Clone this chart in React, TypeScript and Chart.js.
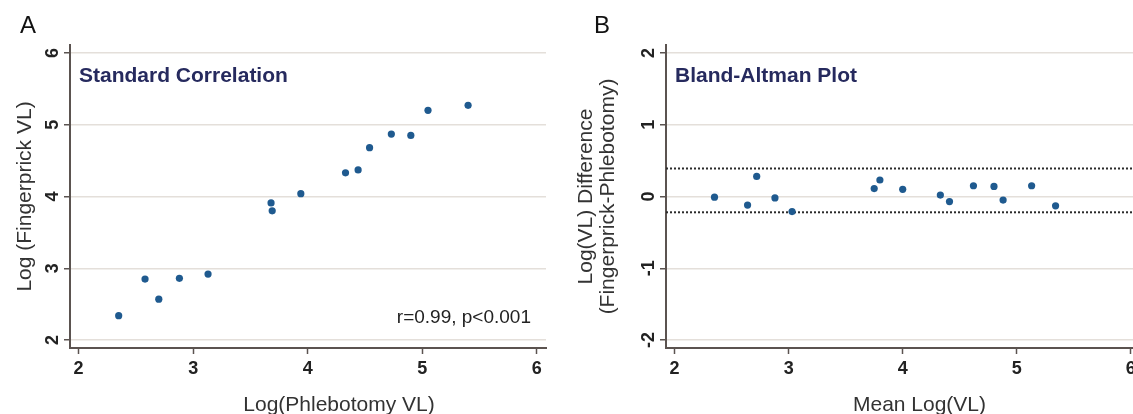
import React, { useEffect, useRef } from "react";
import { Chart, registerables } from "chart.js";

Chart.register(...registerables);

// ---------- data ----------
const xTickValues = [2, 3, 4, 5, 6];
const yTickValuesA = [2, 3, 4, 5, 6];
const yTickValuesB = [-2, -1, 0, 1, 2];

// Panel A: standard correlation
const phlebotomyLogVL = [2.35, 2.58, 2.70, 2.88, 3.13, 3.68, 3.69, 3.94, 4.33, 4.44, 4.54, 4.73, 4.90, 5.05, 5.40];
const fingerprickLogVL = [2.34, 2.85, 2.57, 2.86, 2.92, 3.91, 3.80, 4.04, 4.33, 4.37, 4.68, 4.87, 4.85, 5.20, 5.27];

// Panel B: Bland-Altman
const meanLogVL = [2.35, 2.64, 2.72, 2.88, 3.03, 3.75, 3.80, 4.00, 4.33, 4.41, 4.62, 4.80, 4.88, 5.13, 5.34];
const diffLogVL = [-0.01, -0.12, 0.28, -0.02, -0.21, 0.11, 0.23, 0.10, 0.02, -0.07, 0.15, 0.14, -0.05, 0.15, -0.13];
const limitsOfAgreement = [0.39, -0.22];

// axis ranges
const xRange = [1.925, 6.08];
const yRangeA = [1.89, 6.11];
const yRangeB = [-2.11, 2.11];

// ---------- styles ----------
const FONT = '"Liberation Sans", Arial, Helvetica, sans-serif';
const POINT_COLOR = "#1f5a8f";
const GRID_COLOR = "#e4dfda";
const AXIS_COLOR = "#5b5350";
const TEXT_COLOR = "#222222";
const TITLE_COLOR = "#262a5e";

type Decor = {
  panel: string;
  panelX: number;
  inner: string;
  innerX: number;
  yTitle: string[];
  yTitleX: number[];
  yLabelX: number;
  xTitle: string;
  xTitleX: number;
  note?: string;
};

function decorPlugin(d: Decor) {
  return {
    id: "decor",
    afterDraw(chart: any) {
      const ctx = chart.ctx as CanvasRenderingContext2D;
      const xs = chart.scales.x;
      const ys = chart.scales.y;
      ctx.save();
      ctx.fillStyle = TEXT_COLOR;

      // x tick labels
      ctx.font = `bold 18px ${FONT}`;
      ctx.textAlign = "center";
      ctx.textBaseline = "middle";
      xs.ticks.forEach((t: any) => {
        ctx.fillText(String(t.value), xs.getPixelForValue(t.value), 369);
      });

      // y tick labels (rotated)
      ys.ticks.forEach((t: any) => {
        ctx.save();
        ctx.translate(d.yLabelX, ys.getPixelForValue(t.value));
        ctx.rotate(-Math.PI / 2);
        ctx.fillText(String(t.value), 0, 0);
        ctx.restore();
      });

      // axis titles
      ctx.fillStyle = "#333333";
      ctx.font = `21px ${FONT}`;
      ctx.textBaseline = "alphabetic";
      ctx.fillText(d.xTitle, d.xTitleX, 411);
      const midY = (chart.chartArea.top + chart.chartArea.bottom) / 2;
      d.yTitle.forEach((line, i) => {
        ctx.save();
        ctx.translate(d.yTitleX[i], midY);
        ctx.rotate(-Math.PI / 2);
        ctx.textBaseline = "middle";
        ctx.fillText(line, 0, 0);
        ctx.restore();
      });

      // panel letter
      ctx.fillStyle = "#111111";
      ctx.font = `24px ${FONT}`;
      ctx.textAlign = "left";
      ctx.textBaseline = "alphabetic";
      ctx.fillText(d.panel, d.panelX, 33);

      // inner title
      ctx.fillStyle = TITLE_COLOR;
      ctx.font = `bold 21px ${FONT}`;
      ctx.fillText(d.inner, d.innerX, 82);

      // note
      if (d.note) {
        ctx.fillStyle = TEXT_COLOR;
        ctx.font = `19px ${FONT}`;
        ctx.textAlign = "right";
        ctx.fillText(d.note, 531, 323);
      }
      ctx.restore();
    },
  };
}

function buildOptions(yRange: number[], yTicks: number[], yAxisWidth: number, padRight: number) {
  return {
    responsive: false,
    animation: false as const,
    layout: { padding: { left: 0, right: padRight, top: 45, bottom: 0 } },
    plugins: { legend: { display: false }, tooltip: { enabled: false }, title: { display: false } },
    scales: {
      x: {
        type: "linear" as const,
        min: xRange[0],
        max: xRange[1],
        afterBuildTicks: (s: any) => {
          s.ticks = xTickValues.map((v) => ({ value: v }));
        },
        afterFit: (s: any) => {
          s.height = 66;
        },
        ticks: { display: false },
        grid: { drawOnChartArea: false, drawTicks: true, tickLength: 6, tickColor: AXIS_COLOR, tickWidth: 1.5 },
        border: { display: true, color: AXIS_COLOR, width: 2 },
      },
      y: {
        type: "linear" as const,
        min: yRange[0],
        max: yRange[1],
        afterBuildTicks: (s: any) => {
          s.ticks = yTicks.map((v) => ({ value: v }));
        },
        afterFit: (s: any) => {
          s.width = yAxisWidth;
        },
        ticks: { display: false },
        grid: { color: GRID_COLOR, lineWidth: 1.5, drawTicks: true, tickLength: 6, tickColor: AXIS_COLOR, tickWidth: 1.5 },
        border: { display: true, color: AXIS_COLOR, width: 2 },
      },
    },
  };
}

export default function App() {
  const refA = useRef<HTMLCanvasElement>(null);
  const refB = useRef<HTMLCanvasElement>(null);

  useEffect(() => {
    document.body.style.margin = "0";
    const chartA = new Chart(refA.current!, {
      type: "scatter",
      data: {
        datasets: [
          {
            data: phlebotomyLogVL.map((x, i) => ({ x, y: fingerprickLogVL[i] })),
            backgroundColor: POINT_COLOR,
            borderWidth: 0,
            pointRadius: 3.6,
          },
        ],
      },
      options: buildOptions(yRangeA, yTickValuesA, 70, 14) as any,
      plugins: [
        decorPlugin({
          panel: "A",
          panelX: 20,
          inner: "Standard Correlation",
          innerX: 79,
          yTitle: ["Log (Fingerprick VL)"],
          yTitleX: [25],
          yLabelX: 53,
          xTitle: "Log(Phlebotomy VL)",
          xTitleX: 339,
          note: "r=0.99, p<0.001",
        }),
      ],
    });

    const chartB = new Chart(refB.current!, {
      type: "scatter",
      data: {
        datasets: [
          {
            data: meanLogVL.map((x, i) => ({ x, y: diffLogVL[i] })),
            backgroundColor: POINT_COLOR,
            borderWidth: 0,
            pointRadius: 3.6,
            order: 1,
          } as any,
          ...limitsOfAgreement.map((v) => ({
            type: "line" as const,
            data: [
              { x: xRange[0], y: v },
              { x: xRange[1], y: v },
            ],
            borderColor: "#2b2b2b",
            borderWidth: 2,
            borderDash: [2, 2],
            pointRadius: 0,
            order: 2,
          })),
        ],
      },
      options: buildOptions(yRangeB, yTickValuesB, 106, 20) as any,
      plugins: [
        decorPlugin({
          panel: "B",
          panelX: 34,
          inner: "Bland-Altman Plot",
          innerX: 115,
          yTitle: ["Log(VL) Difference", "(Fingerprick-Phlebotomy)"],
          yTitleX: [26, 48],
          yLabelX: 89,
          xTitle: "Mean Log(VL)",
          xTitleX: 359.5,
        }),
      ],
    });

    return () => {
      chartA.destroy();
      chartB.destroy();
    };
  }, []);

  return (
    <div style={{ position: "relative", width: 1133, height: 414, overflow: "hidden", background: "#ffffff" }}>
      <canvas ref={refA} width={560} height={414} style={{ position: "absolute", left: 0, top: 0 }} />
      <canvas ref={refB} width={600} height={414} style={{ position: "absolute", left: 560, top: 0 }} />
    </div>
  );
}
